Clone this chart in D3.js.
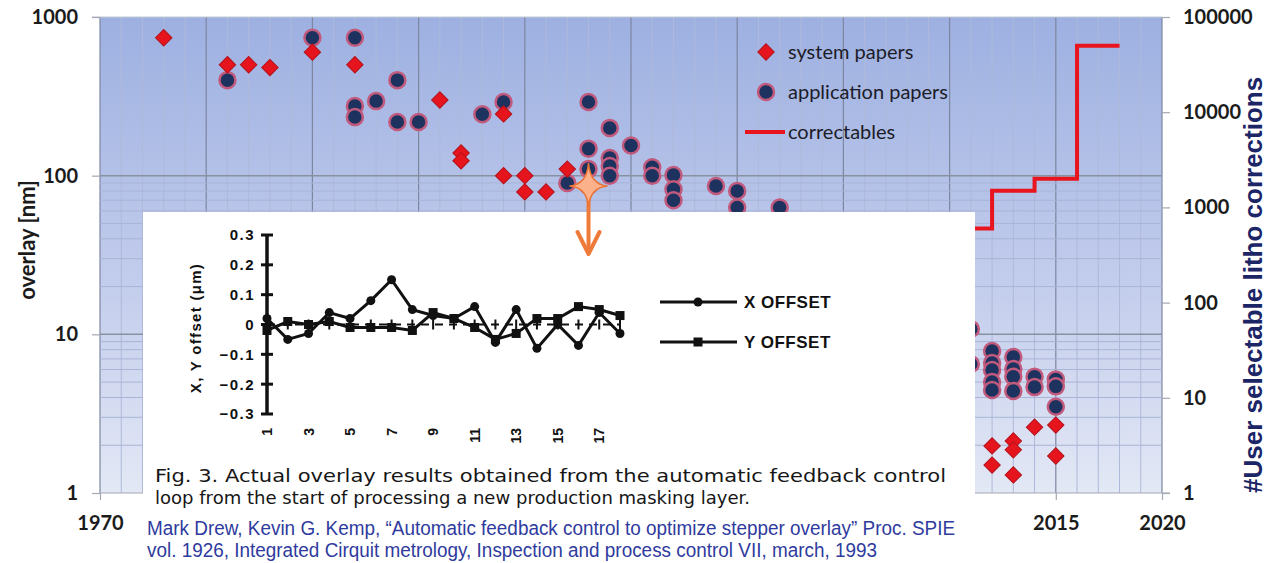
<!DOCTYPE html>
<html>
<head>
<meta charset="utf-8">
<script src="https://cdn.jsdelivr.net/npm/d3@7"></script>
<style>
body { margin: 0; background: #fff; }
svg { display: block; }
</style>
</head>
<body>
<svg id="chart" width="1271" height="563"></svg>
<script>
// Main chart data (overlay in nm vs year)
var systemYears  = [1973, 1976, 1977, 1978, 1980, 1982, 1986, 1987, 1987, 1989, 1989, 1990, 1990, 1991, 1992,
                    2012, 2012, 2013, 2013, 2013, 2014, 2015, 2015];
var systemValues = [740, 500, 500, 480, 600, 500, 300, 139, 124, 245, 100, 100, 79, 79, 110,
                    1.98, 1.5, 2.13, 1.87, 1.3, 2.6, 2.68, 1.71];

var appYears  = [1976, 1980, 1982, 1982, 1982, 1983, 1984, 1984, 1985, 1988, 1989, 1992,
                 1993, 1993, 1993, 1993, 1994, 1994, 1994, 1994, 1995, 1996, 1996,
                 1997, 1997, 1997, 1999, 2000, 2000, 2002,
                 2011, 2011, 2012, 2012, 2012, 2012, 2012, 2013, 2013, 2013, 2013,
                 2014, 2014, 2015, 2015, 2015];
var appValues = [400, 740, 740, 275, 234, 295, 400, 218, 218, 244, 291, 90,
                 291, 148, 110, 86, 200, 129, 115, 100, 155, 113, 100,
                 101, 82, 70, 86, 80, 63, 63,
                 10.8, 6.5, 7.85, 6.6, 5.96, 5.0, 4.46, 7.2, 6.05, 5.4, 4.4,
                 5.4, 4.65, 5.2, 4.7, 3.5];

// right axis: user selectable litho corrections
var correctYears  = [2008, 2012, 2014, 2016, 2018];
var correctValues = [600, 1500, 2000, 50000, 50000];

var leftTicks   = [1, 10, 100, 1000];
var rightTicks  = [1, 10, 100, 1000, 10000, 100000];
var yearTicks   = [1970, 2015, 2020];   // the others sit under the inset

var legendLabels = ["system papers", "application papers", "correctables"];

// Inset (Fig. 3 of the SPIE paper)
var runs    = [1, 2, 3, 4, 5, 6, 7, 8, 9, 10, 11, 12, 13, 14, 15, 16, 17, 18];
var xOffset = [0.02, -0.05, -0.03, 0.04, 0.02, 0.08, 0.15, 0.05, 0.03, 0.02, 0.06, -0.06, 0.05, -0.08, 0.0, -0.07, 0.04, -0.03];
var yOffset = [-0.02, 0.01, 0.0, 0.01, -0.01, -0.01, -0.01, -0.02, 0.04, 0.02, -0.01, -0.05, -0.03, 0.02, 0.02, 0.06, 0.05, 0.03];
var insetYTicks = [-0.3, -0.2, -0.1, 0, 0.1, 0.2, 0.3];
var insetXTicks = [1, 3, 5, 7, 9, 11, 13, 15, 17];
var insetLegend = ["X OFFSET", "Y OFFSET"];

var captionLines  = ["Fig. 3.  Actual overlay results obtained from the automatic feedback control",
                     "loop from the start of processing a new production masking layer."];
var citationLines = ["Mark Drew, Kevin G. Kemp, \u201cAutomatic feedback control to optimize stepper overlay\u201d Proc. SPIE",
                     "vol. 1926, Integrated Cirquit metrology, Inspection and process control VII, march, 1993"];

var svg = d3.select("#chart");

// plot box (window.top is reserved, so prefixed names)
var plotL = 100, plotR = 1162, plotT = 17, plotB = 493;

var x = d3.scaleLinear().domain([1970, 2020]).range([plotL, plotR]);
var yL = d3.scaleLog().domain([1, 1000]).range([plotB, plotT]);
var yR = d3.scaleLog().domain([1, 100000]).range([plotB, plotT]);

// background gradient
var grad = svg.append("defs").append("linearGradient")
    .attr("id", "bg").attr("x1", 0).attr("y1", 0).attr("x2", 0).attr("y2", 1);
grad.append("stop").attr("offset", "0%").attr("stop-color", "#9db0e1");
grad.append("stop").attr("offset", "55%").attr("stop-color", "#c2ccec");
grad.append("stop").attr("offset", "100%").attr("stop-color", "#e3e8f5");

svg.append("rect")
    .attr("x", plotL).attr("y", plotT)
    .attr("width", plotR - plotL).attr("height", plotB - plotT)
    .attr("fill", "url(#bg)");

// grid
var grid = svg.append("g");
var years = d3.range(1970, 2021);
grid.selectAll("line.v").data(years).enter().append("line")
    .attr("x1", d => x(d)).attr("x2", d => x(d))
    .attr("y1", plotT).attr("y2", plotB)
    .attr("stroke", d => d % 5 === 0 ? "#7c869f" : "#aeb9da")
    .attr("stroke-width", d => d % 5 === 0 ? 1.2 : 1);

var minorH = [];
[1, 10].forEach(function (dec) {
    for (var k = 2; k <= 9; k++) minorH.push(dec * k);
});
grid.selectAll("line.h").data(minorH).enter().append("line")
    .attr("x1", plotL).attr("x2", plotR)
    .attr("y1", d => yL(d)).attr("y2", d => yL(d))
    .attr("stroke", "#a9b4d6").attr("stroke-width", 1);
grid.selectAll("line.hm").data([10, 100]).enter().append("line")
    .attr("x1", plotL).attr("x2", plotR)
    .attr("y1", d => yL(d)).attr("y2", d => yL(d))
    .attr("stroke", "#88919f").attr("stroke-width", 1.5);
grid.append("line")
    .attr("x1", plotL - 8).attr("x2", plotR)
    .attr("y1", plotT).attr("y2", plotT)
    .attr("stroke", "#c4c9d3").attr("stroke-width", 1.2);

// axes
var tickFont = "Lato, 'Liberation Sans', sans-serif";

var gLeft = svg.append("g").attr("transform", "translate(" + plotL + ",0)")
    .call(d3.axisLeft(yL).tickValues(leftTicks).tickFormat(d3.format("d")).tickSize(8).tickPadding(14));
var gRight = svg.append("g").attr("transform", "translate(" + plotR + ",0)")
    .call(d3.axisRight(yR).tickValues(rightTicks).tickFormat(d3.format("d")).tickSize(8).tickPadding(13));
var gBottom = svg.append("g").attr("transform", "translate(0," + plotB + ")")
    .call(d3.axisBottom(x).tickValues(yearTicks).tickFormat(d3.format("d")).tickSize(7).tickPadding(16));

[gLeft, gRight, gBottom].forEach(function (g) {
    g.select(".domain").remove();
    g.selectAll(".tick line").attr("stroke", "#a3a8b3").attr("stroke-width", 1.2);
    g.selectAll(".tick text")
        .attr("fill", "#1b1b1b")
        .style("font-family", tickFont)
        .style("font-weight", "bold")
        .style("font-size", "20px");
});
svg.append("line")
    .attr("x1", plotL).attr("x2", plotR + 8)
    .attr("y1", plotB).attr("y2", plotB)
    .attr("stroke", "#a3a8b3").attr("stroke-width", 1.2);

// correctables step line
var stepLine = d3.line()
    .x((d, i) => x(correctYears[i]))
    .y(d => yR(d))
    .curve(d3.curveStepAfter);
svg.append("path")
    .datum(correctValues)
    .attr("d", stepLine)
    .attr("fill", "none")
    .attr("stroke", "#e8141e")
    .attr("stroke-width", 4);

// markers
var diamond = d3.symbol().type(d3.symbolSquare).size(135);

function drawDiamond(sel) {
    sel.attr("d", diamond)
        .attr("fill", "#e6141c")
        .attr("stroke", "#b3121b")
        .attr("stroke-width", 1);
}
function drawCircle(sel) {
    sel.attr("r", 8)
        .attr("fill", "#1e325f")
        .attr("stroke", "#c15a7c")
        .attr("stroke-width", 2.5);
}

svg.append("g").selectAll("circle").data(appValues).enter().append("circle")
    .attr("cx", (d, i) => x(appYears[i]))
    .attr("cy", d => yL(d))
    .call(drawCircle);

svg.append("g").selectAll("path").data(systemValues).enter().append("path")
    .attr("transform", (d, i) => "translate(" + x(systemYears[i]) + "," + yL(d) + ") rotate(45)")
    .call(drawDiamond);

// legend
var legend = svg.append("g").attr("transform", "translate(766,0)");
legend.append("path").attr("transform", "translate(0,52) rotate(45)").call(drawDiamond);
legend.append("circle").attr("cx", 0).attr("cy", 92).call(drawCircle);
legend.append("line").attr("x1", -21).attr("x2", 19).attr("y1", 132).attr("y2", 132)
    .attr("stroke", "#e8141e").attr("stroke-width", 4);
legend.selectAll("text").data(legendLabels).enter().append("text")
    .attr("x", 22)
    .attr("y", (d, i) => 52 + i * 40)
    .attr("dy", "0.35em")
    .attr("fill", "#1c1c28")
    .style("font-family", "Lato, 'Open Sans', sans-serif")
    .style("font-size", "20px")
    .text(d => d);

// axis titles
svg.append("text")
    .attr("transform", "translate(35,240) rotate(-90)")
    .attr("text-anchor", "middle")
    .attr("fill", "#1b1b1b")
    .style("font-family", tickFont)
    .style("font-weight", "bold")
    .style("font-size", "22px")
    .text("overlay [nm]");

svg.append("text")
    .attr("transform", "translate(1262,493) rotate(-90)")
    .attr("text-anchor", "start")
    .attr("fill", "#1c2566")
    .attr("stroke", "#fff")
    .attr("stroke-width", 7)
    .attr("paint-order", "stroke")
    .style("font-family", "'Liberation Sans', Arial, sans-serif")
    .style("font-weight", "bold")
    .style("font-size", "26px")
    .text("#User selectable litho corrections");

// ---------- inset ----------
svg.append("rect")
    .attr("x", 143).attr("y", 212)
    .attr("width", 832).attr("height", 351)
    .attr("fill", "#fff");

var ix = d3.scaleLinear().domain([1, 18]).range([267, 620]);
var iy = d3.scaleLinear().domain([-0.3, 0.3]).range([414, 235]);
var inset = svg.append("g");
var insetFont = "'Liberation Sans', Arial, sans-serif";

// zero reference line with run ticks
inset.append("line")
    .attr("x1", ix(1)).attr("x2", ix(18))
    .attr("y1", iy(0)).attr("y2", iy(0))
    .attr("stroke", "#111").attr("stroke-width", 2)
    .attr("stroke-dasharray", "8,6");
inset.selectAll("line.rt").data(runs).enter().append("line")
    .attr("x1", d => ix(d)).attr("x2", d => ix(d))
    .attr("y1", iy(0) - 5).attr("y2", iy(0) + 5)
    .attr("stroke", "#111").attr("stroke-width", 2);

// y axis
inset.append("line")
    .attr("x1", ix(1)).attr("x2", ix(1))
    .attr("y1", iy(0.3)).attr("y2", iy(-0.3))
    .attr("stroke", "#111").attr("stroke-width", 3.5);
inset.selectAll("line.yt").data(insetYTicks).enter().append("line")
    .attr("x1", ix(1) - 6).attr("x2", ix(1) + 6)
    .attr("y1", d => iy(d)).attr("y2", d => iy(d))
    .attr("stroke", "#111").attr("stroke-width", 3);
inset.selectAll("text.yl").data(insetYTicks).enter().append("text")
    .attr("x", 255)
    .attr("y", d => iy(d))
    .attr("dy", "0.36em")
    .attr("text-anchor", "end")
    .attr("fill", "#111")
    .style("font-family", insetFont)
    .style("font-weight", "bold")
    .style("font-size", "15px")
    .style("letter-spacing", "1.5px")
    .text(d => d === 0 ? "0" : d3.format(".1f")(d));

inset.selectAll("text.xl").data(insetXTicks).enter().append("text")
    .attr("transform", d => "translate(" + (ix(d) + 5) + ",428) rotate(-90)")
    .attr("text-anchor", "end")
    .attr("fill", "#111")
    .style("font-family", insetFont)
    .style("font-weight", "bold")
    .style("font-size", "14px")
    .text(d => d);

inset.append("text")
    .attr("transform", "translate(201,328) rotate(-90)")
    .attr("text-anchor", "middle")
    .attr("fill", "#111")
    .style("font-family", insetFont)
    .style("font-weight", "bold")
    .style("font-size", "15px")
    .style("letter-spacing", "1.3px")
    .text("X, Y offset (\u03bcm)");

// series
var xLine = d3.line().x((d, i) => ix(runs[i])).y(d => iy(d));
inset.append("path").datum(xOffset).attr("d", xLine)
    .attr("fill", "none").attr("stroke", "#111").attr("stroke-width", 3);
inset.append("path").datum(yOffset).attr("d", xLine)
    .attr("fill", "none").attr("stroke", "#111").attr("stroke-width", 3);
inset.selectAll("circle.xo").data(xOffset).enter().append("circle")
    .attr("cx", (d, i) => ix(runs[i])).attr("cy", d => iy(d))
    .attr("r", 4.5).attr("fill", "#111");
inset.selectAll("rect.yo").data(yOffset).enter().append("rect")
    .attr("x", (d, i) => ix(runs[i]) - 4.5).attr("y", d => iy(d) - 4.5)
    .attr("width", 9).attr("height", 9).attr("fill", "#111");

// inset legend
var il = inset.selectAll("g.il").data(insetLegend).enter().append("g")
    .attr("transform", (d, i) => "translate(660," + (302 + i * 40) + ")");
il.append("line").attr("x1", 0).attr("x2", 77).attr("y1", 0).attr("y2", 0)
    .attr("stroke", "#111").attr("stroke-width", 3);
il.filter((d, i) => i === 0).append("circle").attr("cx", 38).attr("cy", 0).attr("r", 4.5).attr("fill", "#111");
il.filter((d, i) => i === 1).append("rect").attr("x", 33.5).attr("y", -4.5).attr("width", 9).attr("height", 9).attr("fill", "#111");
il.append("text")
    .attr("x", 84).attr("y", 0).attr("dy", "0.36em")
    .attr("fill", "#111")
    .style("font-family", insetFont)
    .style("font-weight", "bold")
    .style("font-size", "17px")
    .style("letter-spacing", "0.5px")
    .text(d => d);

// caption
var capLengths = [791, 595];
svg.selectAll("text.cap").data(captionLines).enter().append("text")
    .attr("x", 155)
    .attr("y", (d, i) => 482 + i * 22)
    .attr("textLength", (d, i) => capLengths[i])
    .attr("lengthAdjust", "spacingAndGlyphs")
    .attr("fill", "#161616")
    .style("font-family", "'DejaVu Sans', Verdana, sans-serif")
    .style("font-size", "18px")
    .text(d => d);

// citation
var citeLengths = [808, 730];
svg.selectAll("text.cite").data(citationLines).enter().append("text")
    .attr("x", 147)
    .attr("y", (d, i) => 535 + i * 22)
    .attr("textLength", (d, i) => citeLengths[i])
    .attr("lengthAdjust", "spacingAndGlyphs")
    .attr("fill", "#2f3b9e")
    .style("font-family", "'Liberation Sans Narrow', 'Liberation Sans', Arial, sans-serif")
    .style("font-size", "20px")
    .text(d => d);

// orange star marking the 1993 paper, with arrow down to the inset
var sx = x(1993), sy = yL(86);
var k = 1.5;
var star = "M" + sx + "," + (sy - 23) +
    " Q" + (sx + k) + "," + (sy - k) + " " + (sx + 19) + "," + sy +
    " Q" + (sx + k) + "," + (sy + k) + " " + sx + "," + (sy + 21) +
    " Q" + (sx - k) + "," + (sy + k) + " " + (sx - 19) + "," + sy +
    " Q" + (sx - k) + "," + (sy - k) + " " + sx + "," + (sy - 23) + " Z";
svg.append("line")
    .attr("x1", sx).attr("x2", sx)
    .attr("y1", sy + 12).attr("y2", 253)
    .attr("stroke", "#ef7b3b").attr("stroke-width", 4);
svg.append("path")
    .attr("d", "M" + (sx - 11) + ",232 L" + sx + ",254 L" + (sx + 11) + ",232")
    .attr("fill", "none")
    .attr("stroke", "#ef7b3b").attr("stroke-width", 4)
    .attr("stroke-linecap", "round").attr("stroke-linejoin", "round");
svg.append("path")
    .attr("d", star)
    .attr("fill", "#fbb18a")
    .attr("stroke", "#ea7435")
    .attr("stroke-width", 1.5);
</script>
</body>
</html>
